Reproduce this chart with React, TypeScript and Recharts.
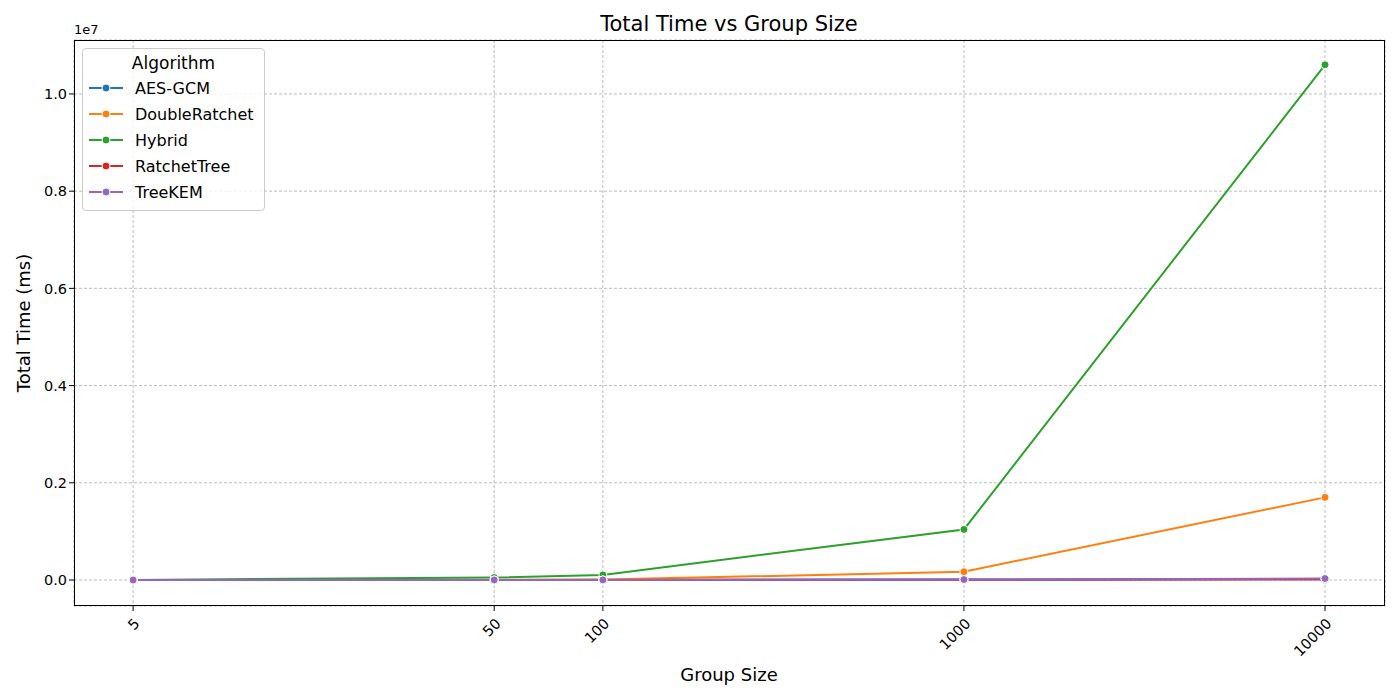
import { LineChart, Line, XAxis, YAxis, CartesianGrid } from 'recharts';

const groupSizes = [5, 50, 100, 1000, 10000];
const aesGcm = [200, 1500, 3000, 8000, 20000];
const doubleRatchet = [300, 3000, 8000, 170000, 1700000];
const hybrid = [2000, 50000, 105000, 1040000, 10600000];
const ratchetTree = [100, 800, 1500, 5000, 12000];
const treeKem = [150, 1200, 2500, 9000, 30000];

const xTicks = [5, 50, 100, 1000, 10000];
const yTicks = [0, 2000000, 4000000, 6000000, 8000000, 10000000];

const series = [
  { key: 'aes', name: 'AES-GCM', color: '#1f77b4', values: aesGcm },
  { key: 'dr', name: 'DoubleRatchet', color: '#ff7f0e', values: doubleRatchet },
  { key: 'hy', name: 'Hybrid', color: '#2ca02c', values: hybrid },
  { key: 'rt', name: 'RatchetTree', color: '#d62728', values: ratchetTree },
  { key: 'tk', name: 'TreeKEM', color: '#9467bd', values: treeKem },
];

const data = groupSizes.map((g, i) => {
  const row: Record<string, number> = { g };
  series.forEach((s) => (row[s.key] = s.values[i]));
  return row;
});

const font = 'DejaVu Sans, sans-serif';

const XTick = ({ x, y, payload }: any) => (
  <text x={x + 4} y={y + 8} transform={`rotate(-45 ${x + 4} ${y + 8})`} textAnchor="end" fontSize={14.5} fill="#000" fontFamily={font} dy={5}>
    {payload.value}
  </text>
);

const Dot = (color: string) => (props: any) => (
  <circle key={props.index} cx={props.cx} cy={props.cy} r={4} fill={color} stroke="#fff" strokeWidth={1} />
);

export default function App() {
  return (
    <div style={{ position: 'absolute', left: 0, top: 0, width: 1400, height: 700, background: '#fff', fontFamily: font }}>
      <LineChart width={1400} height={700} data={data} margin={{ top: 40, right: 15, left: 14, bottom: 34 }}>
        <CartesianGrid stroke="#a0a0a0" strokeDasharray="3 2" strokeWidth={0.7} />
        <XAxis dataKey="g" type="number" scale="log" domain={[3.43, 14660]} ticks={xTicks} allowDataOverflow
          height={60} tick={<XTick />} tickLine={{ stroke: '#000' }} axisLine={false} tickSize={5} interval={0} />
        <YAxis type="number" domain={[-535000, 11110000]} ticks={yTicks} allowDataOverflow width={60}
          tickFormatter={(v: number) => (v / 1e7).toFixed(1)} tick={{ fontSize: 14.5, fill: '#000', fontFamily: font }}
          tickLine={{ stroke: '#000' }} axisLine={false} tickSize={5} interval={0} />
        {series.map((s) => (
          <Line key={s.key} dataKey={s.key} name={s.name} stroke={s.color} strokeWidth={2} type="linear"
            dot={Dot(s.color)} activeDot={false} isAnimationActive={false} />
        ))}
      </LineChart>
      <div style={{ position: 'absolute', left: 74, top: 40, width: 1311, height: 566, border: '1px solid #000', boxSizing: 'border-box', pointerEvents: 'none' }} />
      <div style={{ position: 'absolute', left: 0, width: 1458, top: 12, textAlign: 'center', fontSize: 21 }}>Total Time vs Group Size</div>
      <div style={{ position: 'absolute', left: 74, top: 22, fontSize: 13 }}>1e7</div>
      <div style={{ position: 'absolute', left: 0, width: 1458, top: 664, textAlign: 'center', fontSize: 18 }}>Group Size</div>
      <div style={{ position: 'absolute', left: 23, top: 323, fontSize: 18, transform: 'translate(-50%,-50%) rotate(-90deg)', whiteSpace: 'nowrap' }}>Total Time (ms)</div>
      <div style={{ position: 'absolute', left: 82, top: 48, width: 183, height: 163, border: '1px solid #ccc', borderRadius: 4, background: 'rgba(255,255,255,0.8)', boxSizing: 'border-box', padding: '4px 6px' }}>
        <div style={{ textAlign: 'center', fontSize: 17, marginBottom: 2 }}>Algorithm</div>
        {series.map((s) => (
          <div key={s.key} style={{ display: 'flex', alignItems: 'center', height: 26, fontSize: 16 }}>
            <svg width={36} height={12} style={{ marginRight: 10 }}>
              <line x1={0} y1={6} x2={34} y2={6} stroke={s.color} strokeWidth={2} />
              <circle cx={17} cy={6} r={4} fill={s.color} stroke="#fff" />
            </svg>
            {s.name}
          </div>
        ))}
      </div>
    </div>
  );
}
